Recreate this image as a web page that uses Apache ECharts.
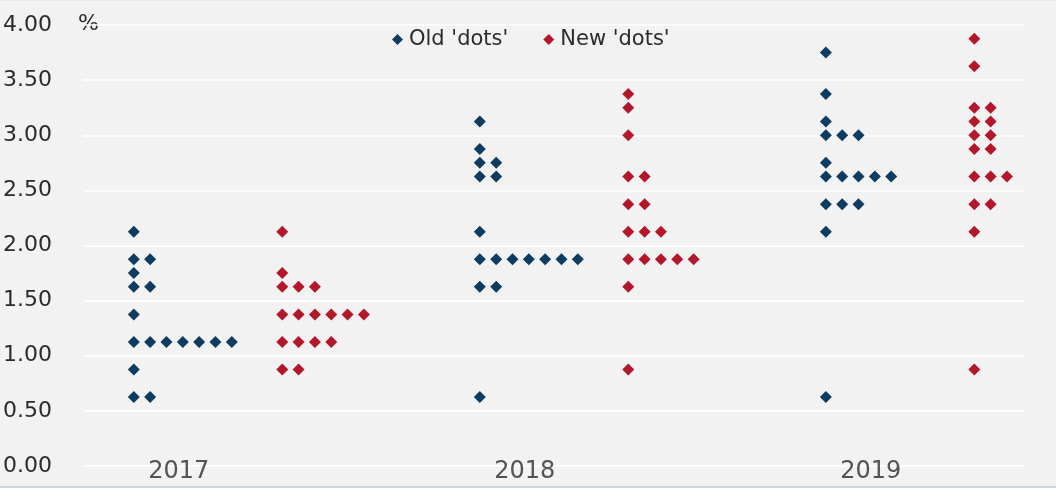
<!DOCTYPE html>
<html>
<head>
<meta charset="utf-8">
<script src="https://cdn.jsdelivr.net/npm/echarts@6/dist/echarts.min.js"></script>
<style>
  html, body { margin: 0; padding: 0; background: #ffffff; }
  #chart { width: 1056px; height: 488px; background: #f2f2f2; border-top: 1px solid #e4ebf2; border-bottom: 2px solid #c9d6e3; box-sizing: border-box; }
</style>
</head>
<body>
<div id="chart"></div>
<script>
// ---- data ----
const years = ['2017', '2018', '2019'];
const rateLevels = [0.625, 0.875, 1.125, 1.375, 1.625, 1.75, 1.875, 2.125, 2.375, 2.625, 2.75, 2.875, 3.0, 3.125, 3.25, 3.375, 3.625, 3.75, 3.875];
// number of participants at each rate level, per year
const oldDots2017 = [2, 1, 7, 1, 2, 1, 2, 1, 0, 0, 0, 0, 0, 0, 0, 0, 0, 0, 0];
const oldDots2018 = [1, 0, 0, 0, 2, 0, 7, 1, 0, 2, 2, 1, 0, 1, 0, 0, 0, 0, 0];
const oldDots2019 = [1, 0, 0, 0, 0, 0, 0, 1, 3, 5, 1, 0, 3, 1, 0, 1, 0, 1, 0];
const newDots2017 = [0, 2, 4, 6, 3, 1, 0, 1, 0, 0, 0, 0, 0, 0, 0, 0, 0, 0, 0];
const newDots2018 = [0, 1, 0, 0, 1, 0, 5, 3, 2, 2, 0, 0, 1, 0, 1, 1, 0, 0, 0];
const newDots2019 = [0, 1, 0, 0, 0, 0, 0, 1, 2, 3, 0, 2, 2, 2, 2, 0, 1, 0, 1];
const yTicks = [0, 0.5, 1, 1.5, 2, 2.5, 3, 3.5, 4];
const seriesNames = ["Old 'dots'", "New 'dots'"];

// ---- layout constants (in x-axis units: one unit per year group) ----
const NEW_OFFSET = 0.429;
const DOT_STEP = 0.0472;
const LABEL_OFFSET = 0.13;

function buildDots(perYear, offset) {
  const pts = [];
  perYear.forEach((counts, yi) => {
    counts.forEach((c, li) => {
      for (let k = 0; k < c; k++) {
        pts.push([yi + offset + k * DOT_STEP, rateLevels[li]]);
      }
    });
  });
  return pts;
}
const oldData = buildDots([oldDots2017, oldDots2018, oldDots2019], 0);
const newData = buildDots([newDots2017, newDots2018, newDots2019], NEW_OFFSET);
const labelData = years.map((y, i) => ({ value: [i + LABEL_OFFSET, 0], name: y }));

const FONT = 'DejaVu Sans';
const TXT = '#2b2b2b';
const chart = echarts.init(document.getElementById('chart'), null, { renderer: 'canvas' });
chart.setOption({
  animation: false,
  backgroundColor: '#f2f2f2',
  textStyle: { fontFamily: FONT },
  grid: { left: 82, right: 31, top: 24, bottom: 20 },
  legend: {
    data: seriesNames,
    left: 387, top: 23,
    icon: 'diamond', itemWidth: 11, itemHeight: 11, itemGap: 35,
    textStyle: { fontFamily: FONT, fontSize: 21, color: TXT, padding: [0, 0, 0, 1] }
  },
  xAxis: {
    type: 'value', min: -0.1468, max: 2.5755,
    axisLine: { show: false }, axisTick: { show: false },
    axisLabel: { show: false }, splitLine: { show: false }
  },
  yAxis: {
    type: 'value', min: yTicks[0], max: yTicks[yTicks.length - 1], interval: 0.5,
    axisLine: { show: false }, axisTick: { show: false },
    axisLabel: {
      formatter: v => v.toFixed(2), fontFamily: FONT, fontSize: 22, color: TXT,
      align: 'left', margin: 80
    },
    splitLine: { lineStyle: { color: '#ffffff', width: 1.5 } }
  },
  graphic: [{
    type: 'text', left: 78, top: 12,
    style: { text: '%', font: '22px DejaVu Sans', fill: TXT }
  }],
  series: [
    { name: seriesNames[0], type: 'scatter', symbol: 'diamond', symbolSize: 12,
      itemStyle: { color: '#0d3c60', opacity: 1 }, data: oldData, z: 3 },
    { name: seriesNames[1], type: 'scatter', symbol: 'diamond', symbolSize: 12,
      itemStyle: { color: '#b3172a', opacity: 1 }, data: newData, z: 3 },
    { name: 'years', type: 'scatter', symbolSize: 0, silent: true, data: labelData, z: 4,
      label: { show: true, position: 'inside', formatter: p => p.name, offset: [0, 6],
               fontFamily: FONT, fontSize: 24, color: TXT } }
  ]
});
</script>
</body>
</html>
